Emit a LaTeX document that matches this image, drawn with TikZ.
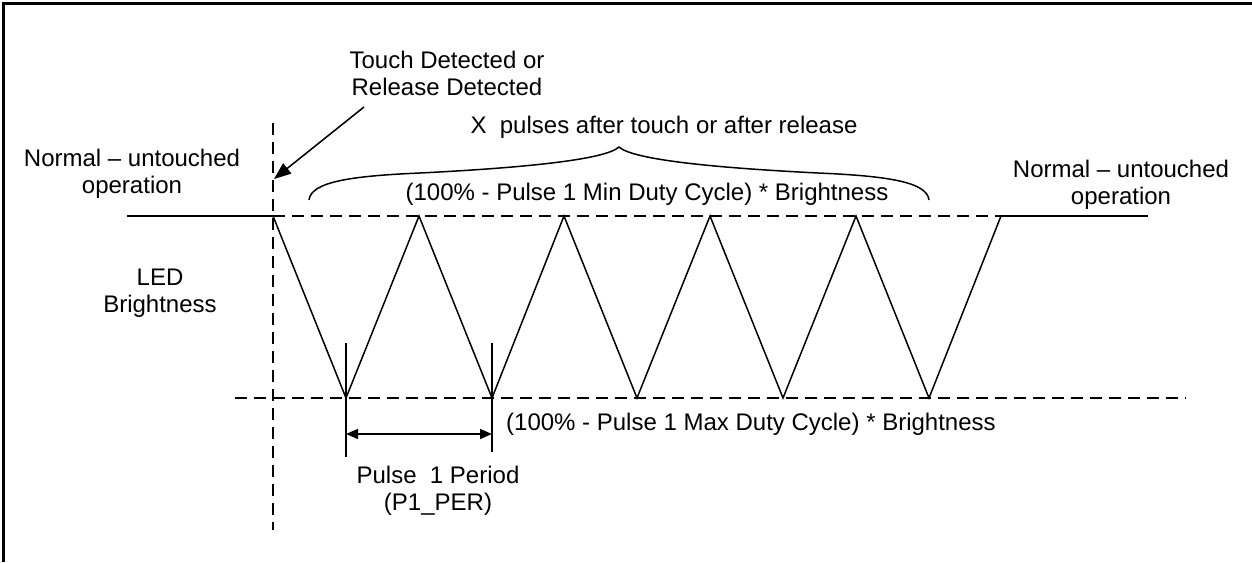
\documentclass[tikz,border=0pt]{standalone}
\usepackage{fontspec}
\setmainfont{Liberation Sans}
\usetikzlibrary{arrows.meta}
\begin{document}
\begin{tikzpicture}[x=1pt,y=-1pt,
  txt/.style={font=\fontsize{24}{27}\selectfont, inner sep=0pt, align=center},
  wave/.style={line width=1.5pt, line join=miter},
  solidline/.style={line width=1.5pt},
  dashline/.style={line width=2.6pt, dash pattern=on 12pt off 7pt},
  frameline/.style={line width=3pt},
  callout/.style={line width=1.5pt, -{Triangle[length=17pt,width=13pt]}},
  dimarrow/.style={line width=1.5pt, {Triangle[length=12pt,width=10pt]}-{Triangle[length=12pt,width=10pt]}},
]
\useasboundingbox (0,0) rectangle (1252,562);
% frame (cropped)
\draw[frameline] (3,562) -- (3,3) -- (1252,3);

% level lines
\coordinate (L0) at (127,216);
\coordinate (R0) at (1148,216);
\coordinate (B0) at (235,398);
\coordinate (B1) at (1186,398);
\coordinate (V0) at (273,123);
\coordinate (V1) at (273,530);

% triangle wave points
\coordinate (p0) at (273,216);
\coordinate (p1) at (346,398);
\coordinate (p2) at (419,216);
\coordinate (p3) at (492,398);
\coordinate (p4) at (564,216);
\coordinate (p5) at (637,398);
\coordinate (p6) at (710,216);
\coordinate (p7) at (783,398);
\coordinate (p8) at (856,216);
\coordinate (p9) at (929,398);
\coordinate (p10) at (1001,216);

\draw[dashline] (V0) -- (V1);
\draw[dashline] (p0) -- (p10);
\draw[dashline] (B0) -- (B1);
\draw[solidline] (L0) -- (p0);
\draw[solidline] (p10) -- (R0);
\draw[wave] (p0) -- (p1) -- (p2) -- (p3) -- (p4) -- (p5) -- (p6) -- (p7) -- (p8) -- (p9) -- (p10);

% period ticks and dimension arrow
\coordinate (t1a) at (346,343);
\coordinate (t1b) at (346,457);
\coordinate (t2a) at (492,343);
\coordinate (t2b) at (492,452);
\draw[solidline] (t1a) -- (t1b);
\draw[solidline] (t2a) -- (t2b);
\coordinate (d1) at (346,434);
\coordinate (d2) at (492,434);
\draw[dimarrow] (d1) -- (d2);

% brace
\coordinate (bl) at (309,200);
\coordinate (bml) at (420,173);
\coordinate (bc) at (619,147);
\coordinate (bmr) at (818,173);
\coordinate (br) at (929,200);
\draw[solidline] (bl) .. controls (311,182) and (350,176) .. (bml)
  .. controls (520,168) and (605,160) .. (bc)
  .. controls (633,160) and (718,168) .. (bmr)
  .. controls (888,176) and (927,182) .. (br);

% callout arrow
\coordinate (a1) at (364,107);
\coordinate (a2) at (274,179);
\draw[callout] (a1) -- (a2);

% texts (base anchor = baseline of the last line)
\node[txt, anchor=base] (touch) at (447,95) {Touch Detected or\\Release Detected};
\node[txt, anchor=base] (xpulses) at (664,133) {X\ \ pulses after touch or after release};
\node[txt, anchor=base] (normL) at (132,193) {Normal – untouched\\operation};
\node[txt, anchor=base] (normR) at (1121,204) {Normal – untouched\\operation};
\node[txt, anchor=base] (minduty) at (647,200) {(100\% - Pulse 1 Min Duty Cycle) * Brightness};
\node[txt, anchor=base] (led) at (160,312) {LED\\Brightness};
\node[txt, anchor=base west] (maxduty) at (506,430) {(100\% - Pulse 1 Max Duty Cycle) * Brightness};
\node[txt, anchor=base] (period) at (438,510) {Pulse\ \ 1 Period\\(P1\_PER)};
\end{tikzpicture}
\end{document}
